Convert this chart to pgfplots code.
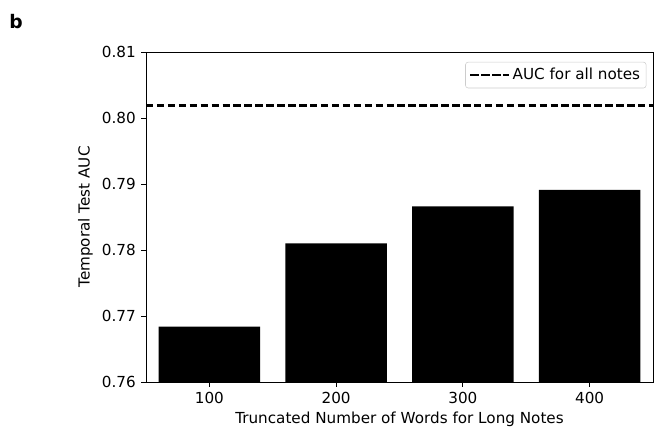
\documentclass[border=0pt]{standalone}
\usepackage{pgfplots}
\pgfplotsset{compat=1.18}
\usepackage{fontspec}
\setmainfont{DejaVu Sans}
\begin{document}
\fontsize{11.4}{13.5}\selectfont
\begin{tikzpicture}[x=1pt,y=1pt]
\path[use as bounding box] (-109.5,-36) rectangle (381.75,286.5);
\begin{axis}[
  at={(0,0)}, anchor=south west,
  scale only axis, width=380.25pt, height=247.5pt,
  xmin=-0.5, xmax=3.5, ymin=0.76, ymax=0.81,
  xtick={0,1,2,3}, xticklabels={100,200,300,400},
  ytick={0.76,0.77,0.78,0.79,0.80,0.81},
  yticklabel style={/pgf/number format/.cd,fixed,fixed zerofill,precision=2},
  /pgf/number format/assume math mode=true,
  tick align=outside, tick pos=left,
  major tick length=3.7pt,
  every tick/.style={black, line width=0.7pt},
  axis line style={line width=0.7pt},
  xlabel={Truncated Number of Words for Long Notes},
  ylabel={Temporal Test AUC},
  xlabel style={yshift=2pt},
  ylabel style={yshift=-1pt},
  legend style={at={(0.987,0.97)}, anchor=north east, draw=black!20, rounded corners=2pt, font=\fontsize{11.4}{13.5}\selectfont, inner sep=2.5pt, row sep=0pt},
  legend cell align=left,
  legend image code/.code={\draw[#1] (1pt,0pt) -- (23pt,0pt); \path (0pt,0pt) -- (29pt,0pt);},
]
\addplot[ybar, bar width=0.8, fill=black, draw=none, bar shift=0pt, forget plot] coordinates {
  (0,0.7684) (1,0.7810) (2,0.7866) (3,0.7891)
};
\addplot[black, line width=1.9pt, dash pattern=on 5.6pt off 2.6pt] coordinates {(-0.5,0.8019) (3.5,0.8019)};
\addlegendentry{AUC for all notes}
\end{axis}
\node[font=\bfseries\fontsize{14}{16}\selectfont] at (-97.5,270) {b};
\end{tikzpicture}
\end{document}
